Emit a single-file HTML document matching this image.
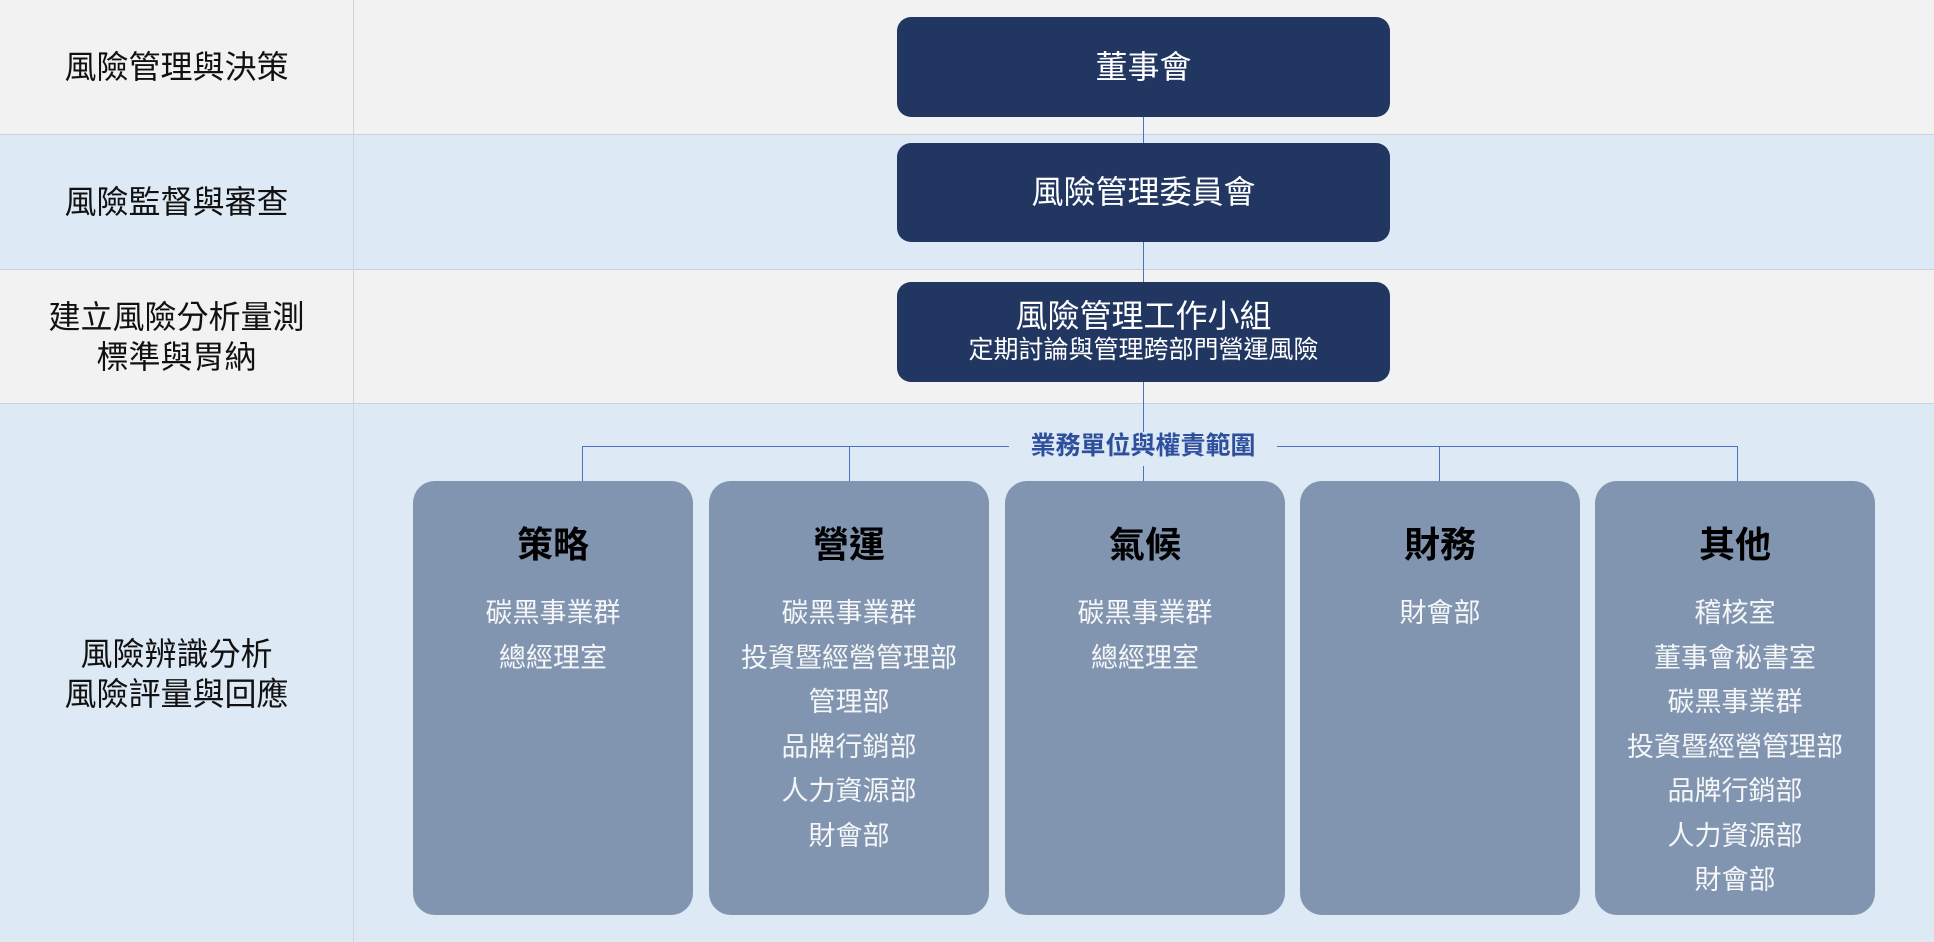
<!DOCTYPE html>
<html><head><meta charset="utf-8"><style>
*{margin:0;padding:0;box-sizing:border-box}
body{width:1934px;height:942px;position:relative;overflow:hidden;font-family:"Liberation Sans","Noto Sans CJK TC",sans-serif;background:#dde9f5}
.row{position:absolute;left:0;width:1934px;border-bottom:1px solid #c9d1da}
.lab{position:absolute;left:0;width:353px;text-align:center;font-size:32px;color:#111;line-height:40px}
.vd{position:absolute;left:353px;top:0;width:1px;height:942px;background:#cdd5de}
.box{position:absolute;left:897px;width:493px;background:#213762;border-radius:14px;color:#fff;text-align:center}
.line{position:absolute;background:#4a72c0}
.card{position:absolute;top:481px;width:280px;height:434px;background:#8295b0;border-radius:22px;text-align:center;color:#f4f6f8}
.card h3{font-size:36px;font-weight:bold;color:#000;margin-top:42px;line-height:44px}
.card p{font-size:27px;line-height:44.5px}
.card .items{margin-top:24px}
</style></head><body>
<div class="row" style="top:0;height:135px;background:#f2f2f2"></div>
<div class="row" style="top:135px;height:135px;background:#dde9f5"></div>
<div class="row" style="top:270px;height:134px;background:#f2f2f2"></div>
<div class="vd"></div>
<div class="lab" style="top:47px">風險管理與決策</div>
<div class="lab" style="top:182px">風險監督與審查</div>
<div class="lab" style="top:297px">建立風險分析量測<br>標準與胃納</div>
<div class="lab" style="top:634px">風險辨識分析<br>風險評量與回應</div>

<div class="line" style="left:1143px;top:117px;width:1px;height:165px"></div>
<div class="line" style="left:1143px;top:382px;width:1px;height:50px"></div>
<div class="box" style="top:17px;height:100px;font-size:32px;line-height:100px">董事會</div>
<div class="box" style="top:143px;height:99px;font-size:32px;line-height:99px">風險管理委員會</div>
<div class="box" style="top:282px;height:100px"><div style="font-size:32px;line-height:38px;margin-top:15px">風險管理工作小組</div><div style="font-size:25px;line-height:30px">定期討論與管理跨部門營運風險</div></div>

<div class="line" style="left:582px;top:446px;width:427px;height:1px"></div>
<div class="line" style="left:1277px;top:446px;width:461px;height:1px"></div>
<div style="position:absolute;left:1009px;width:268px;top:430px;text-align:center;font-size:25px;font-weight:bold;color:#2e4f9c;line-height:32px">業務單位與權責範圍</div>
<div class="line" style="left:582px;top:446px;width:1px;height:35px"></div>
<div class="line" style="left:849px;top:446px;width:1px;height:35px"></div>
<div class="line" style="left:1143px;top:466px;width:1px;height:15px"></div>
<div class="line" style="left:1439px;top:446px;width:1px;height:35px"></div>
<div class="line" style="left:1737px;top:446px;width:1px;height:35px"></div>

<div class="card" style="left:413px"><h3>策略</h3><div class="items"><p>碳黑事業群</p><p>總經理室</p></div></div>
<div class="card" style="left:709px"><h3>營運</h3><div class="items"><p>碳黑事業群</p><p>投資暨經營管理部</p><p>管理部</p><p>品牌行銷部</p><p>人力資源部</p><p>財會部</p></div></div>
<div class="card" style="left:1005px"><h3>氣候</h3><div class="items"><p>碳黑事業群</p><p>總經理室</p></div></div>
<div class="card" style="left:1300px"><h3>財務</h3><div class="items"><p>財會部</p></div></div>
<div class="card" style="left:1595px"><h3>其他</h3><div class="items"><p>稽核室</p><p>董事會秘書室</p><p>碳黑事業群</p><p>投資暨經營管理部</p><p>品牌行銷部</p><p>人力資源部</p><p>財會部</p></div></div>
</body></html>
